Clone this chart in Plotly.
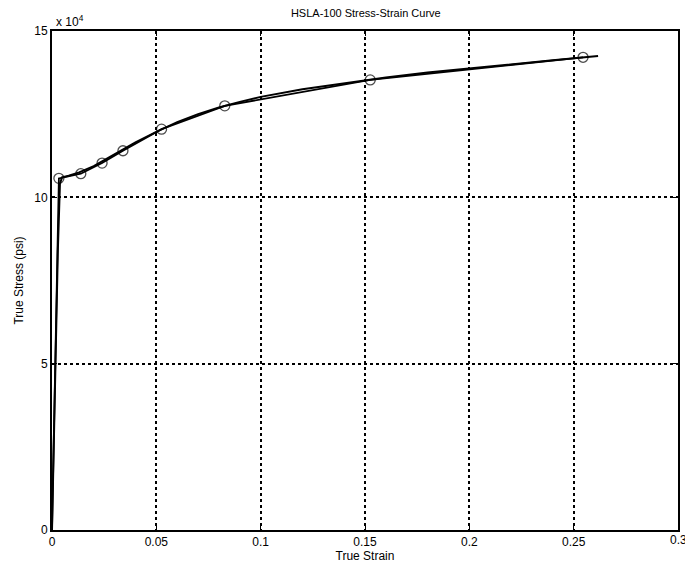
import plotly.graph_objects as go

# Measured data (with circle markers)
strain_pts = [0.0, 0.0033, 0.0138, 0.0240, 0.0340, 0.0525, 0.0828, 0.1525, 0.2545]
stress_pts = [0.0, 1.057e5, 1.071e5, 1.103e5, 1.140e5, 1.205e5, 1.275e5, 1.353e5, 1.421e5]

# Fitted curve (no markers)
strain_fit = [0.0, 0.0008, 0.0018, 0.0028, 0.0038, 0.0048, 0.008, 0.013, 0.02, 0.03, 0.04,
              0.05, 0.06, 0.07, 0.08, 0.09, 0.10, 0.12, 0.14, 0.16, 0.18, 0.20, 0.22, 0.24, 0.2617]
stress_fit = [0.0, 2.5e4, 5.5e4, 8.4e4, 1.04e5, 1.060e5, 1.065e5, 1.075e5, 1.094e5, 1.130e5, 1.165e5,
              1.197e5, 1.226e5, 1.250e5, 1.270e5, 1.287e5, 1.302e5, 1.325e5, 1.343e5, 1.360e5,
              1.375e5, 1.388e5, 1.400e5, 1.412e5, 1.425e5]

x_ticks = [0, 0.05, 0.1, 0.15, 0.2, 0.25, 0.3]
x_ticktext = ["0", "0.05", "0.1", "0.15", "0.2", "0.25", "0.3"]
y_ticks = [0, 5e4, 1e5, 1.5e5]
y_ticktext = ["0", "5", "10", "15"]

marker_sizes = [0] + [10] * (len(strain_pts) - 1)

fig = go.Figure()
fig.add_trace(go.Scatter(x=strain_fit, y=stress_fit, mode="lines",
                         line=dict(color="black", width=2), showlegend=False))
fig.add_trace(go.Scatter(x=strain_pts, y=stress_pts, mode="lines+markers",
                         line=dict(color="black", width=1.8),
                         marker=dict(symbol="circle-open", size=marker_sizes, color="black",
                                     line=dict(width=1.3, color="black")),
                         showlegend=False))

font = dict(family="Liberation Sans, Arial, sans-serif", color="black", size=12)

fig.update_layout(
    width=685, height=565,
    margin=dict(l=52, r=5, t=31, b=35),
    paper_bgcolor="white", plot_bgcolor="white",
    font=font,
    title=dict(text="HSLA-100 Stress-Strain Curve", x=0.534, xanchor="center",
               y=0.977, yanchor="middle", font=dict(size=11, color="black")),
    xaxis=dict(range=[0, 0.3], tickvals=x_ticks[:-1], ticktext=x_ticktext[:-1],
               showgrid=True, gridcolor="black", griddash="dot", gridwidth=1.5,
               zeroline=False, showline=True, linecolor="black", linewidth=2,
               mirror="allticks", ticks="inside", ticklen=5, tickcolor="black",
               title=dict(text="True Strain", standoff=0, font=dict(size=12)),
               tickfont=dict(size=12)),
    yaxis=dict(range=[0, 1.5e5], tickvals=y_ticks, ticktext=y_ticktext,
               showgrid=True, gridcolor="black", griddash="dot", gridwidth=1.5,
               zeroline=False, showline=True, linecolor="black", linewidth=2,
               mirror="allticks", ticks="inside", ticklen=5, tickcolor="black",
               title=dict(text="True Stress (psi)", standoff=8, font=dict(size=12)),
               tickfont=dict(size=12)),
    annotations=[
        dict(text="x 10<sup>4</sup>", xref="paper", yref="paper",
             x=0.0, y=1.0, xanchor="left", yanchor="bottom",
             showarrow=False, font=dict(size=12), xshift=2),
        dict(text=x_ticktext[-1], xref="x", yref="paper",
             x=x_ticks[-1], y=0, xanchor="center", yanchor="top",
             showarrow=False, font=dict(size=12), yshift=-1),
    ],
)

fig.write_html("out.html")
